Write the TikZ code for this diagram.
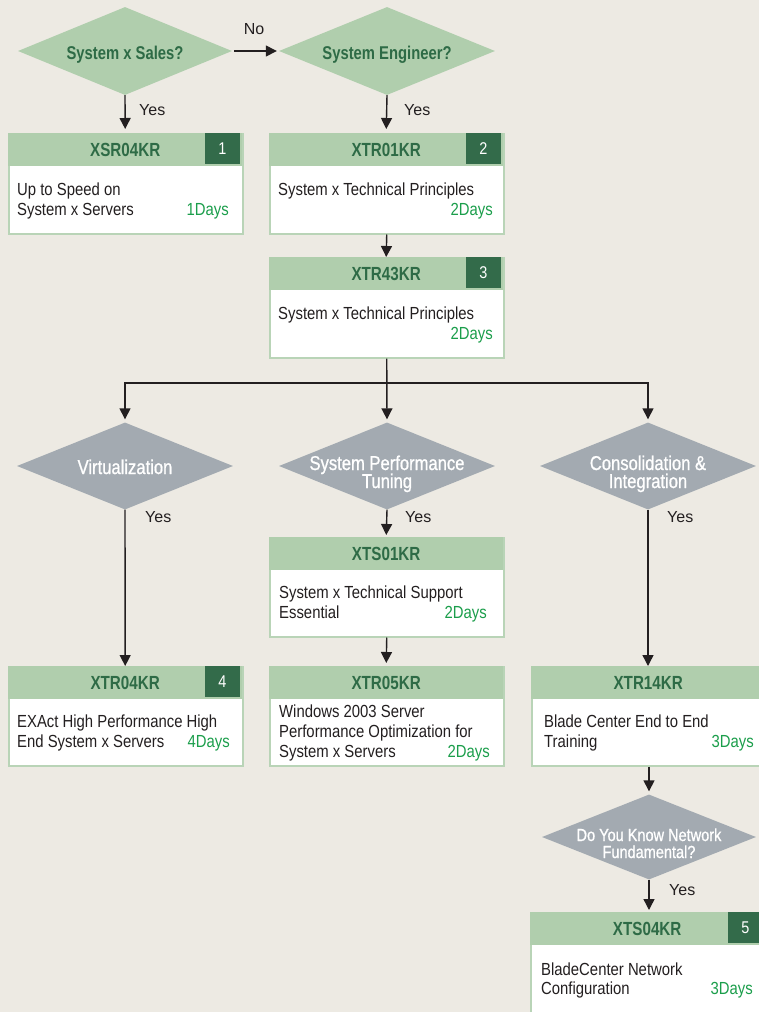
\documentclass[tikz,border=0pt]{standalone}
\usepackage{fontspec}
\setmainfont{Liberation Sans}
\newfontfamily\bodyf[FakeStretch=0.85]{Liberation Sans}
\newfontfamily\hdf[FakeStretch=0.8]{Liberation Sans Bold}
\newfontfamily\grf[FakeStretch=0.83,FakeBold=0.9]{Liberation Sans}
\usetikzlibrary{arrows.meta,shapes.geometric}
\definecolor{bgc}{HTML}{EDEAE3}
\definecolor{lgreen}{HTML}{B0CEAD}
\definecolor{bline}{HTML}{B9D4B7}
\definecolor{dgreen}{HTML}{2E6B46}
\definecolor{ngreen}{HTML}{336B4A}
\definecolor{gdia}{HTML}{A3AAB1}
\definecolor{daysc}{HTML}{1B9E4B}
\definecolor{ink}{HTML}{231F20}
\begin{document}
\begin{tikzpicture}[x=1pt,y=-1pt,
  greendia/.style={diamond, fill=lgreen, minimum width=214, minimum height=88, inner sep=0},
  graydia/.style={diamond, fill=gdia, minimum width=216, minimum height=87, inner sep=0},
  dtxt/.style={anchor=base, inner sep=0, text=dgreen, font=\hdf\fontsize{18.5}{20}\selectfont},
  gtxt/.style={anchor=base, inner sep=0, text=white, font=\grf\fontsize{20}{20}\selectfont},
  gtxts/.style={anchor=base, inner sep=0, text=white, font=\grf\fontsize{17.5}{18}\selectfont},
  boxr/.style={anchor=north west, fill=white, draw=bline, line width=1.5, minimum width=234, inner sep=0},
  hdr/.style={anchor=north west, fill=lgreen, minimum width=234, minimum height=33, inner sep=0, text=dgreen, font=\hdf\fontsize{19}{20}\selectfont},
  numbox/.style={anchor=north east, fill=ngreen, minimum width=35, minimum height=31, inner sep=0, text=white, font=\bodyf\fontsize{17}{18}\selectfont},
  txt/.style={anchor=base west, inner sep=0, text=ink, font=\bodyf\fontsize{17.5}{20}\selectfont},
  days/.style={anchor=base east, inner sep=0, text=daysc, font=\bodyf\fontsize{17.5}{20}\selectfont},
  lbl/.style={anchor=base west, inner sep=0, text=ink, font=\fontsize{16}{18}\selectfont},
  arr/.style={draw=ink, line width=1.4, -{Triangle[length=11pt,width=11pt]}},
  ln/.style={draw=ink, line width=1.4}
]
\useasboundingbox (0,0) rectangle (759,1012);
\fill[bgc] (0,0) rectangle (759,1012);
\clip (0,0) rectangle (759,1012);

% ---------- top decisions
\node[greendia] (d1) at (125,51) {};
\node[dtxt] (d1t) at (125,59) {System x Sales?};
\node[greendia, minimum width=216] (d2) at (387,51) {};
\node[dtxt] (d2t) at (387,59) {System Engineer?};

% ---------- box 1
\node[boxr, minimum height=100] (b1) at (8,133) {};
\node[hdr] (b1h) at (8,133) {XSR04KR};
\node[numbox] (n1) at (240,133) {1};
\node[txt] (b1l1) at (17,195) {Up to Speed on};
\node[txt] (b1l2) at (17,215) {System x Servers};
\node[days] (b1d) at (229,215) {1Days};

% ---------- box 2
\node[boxr, minimum height=100] (b2) at (269,133) {};
\node[hdr] (b2h) at (269,133) {XTR01KR};
\node[numbox] (n2) at (501,133) {2};
\node[txt] (b2l1) at (278,195) {System x Technical Principles};
\node[days] (b2d) at (493,215) {2Days};

% ---------- box 3
\node[boxr, minimum height=100] (b3) at (269,257) {};
\node[hdr] (b3h) at (269,257) {XTR43KR};
\node[numbox] (n3) at (501,257) {3};
\node[txt] (b3l1) at (278,319) {System x Technical Principles};
\node[days] (b3d) at (493,339) {2Days};

% ---------- gray decisions
\node[graydia] (g1) at (125,466) {};
\node[gtxt] (g1t) at (125,474) {Virtualization};
\node[graydia] (g2) at (387,466) {};
\node[gtxt] (g2t1) at (387,470) {System Performance};
\node[gtxt] (g2t2) at (387,488) {Tuning};
\node[graydia] (g3) at (648,466) {};
\node[gtxt] (g3t1) at (648,470) {Consolidation \&};
\node[gtxt] (g3t2) at (648,488) {Integration};

% ---------- box XTS01KR
\node[boxr, minimum height=99] (b4) at (269,537) {};
\node[hdr] (b4h) at (269,537) {XTS01KR};
\node[txt] (b4l1) at (279,598) {System x Technical Support};
\node[txt] (b4l2) at (279,618) {Essential};
\node[days] (b4d) at (487,618) {2Days};

% ---------- box XTR04KR
\node[boxr, minimum height=99] (b5) at (8,666) {};
\node[hdr] (b5h) at (8,666) {XTR04KR};
\node[numbox] (n4) at (240,666) {4};
\node[txt] (b5l1) at (17,727) {EXAct High Performance High};
\node[txt] (b5l2) at (17,747) {End System x Servers};
\node[days] (b5d) at (230,747) {4Days};

% ---------- box XTR05KR
\node[boxr, minimum height=99] (b6) at (269,666) {};
\node[hdr] (b6h) at (269,666) {XTR05KR};
\node[txt] (b6l1) at (279,717) {Windows 2003 Server};
\node[txt] (b6l2) at (279,737) {Performance Optimization for};
\node[txt] (b6l3) at (279,757) {System x Servers};
\node[days] (b6d) at (490,757) {2Days};

% ---------- box XTR14KR
\node[boxr, minimum height=99] (b7) at (531,666) {};
\node[hdr] (b7h) at (531,666) {XTR14KR};
\node[txt] (b7l1) at (544,727) {Blade Center End to End};
\node[txt] (b7l2) at (544,747) {Training};
\node[days] (b7d) at (754,747) {3Days};

% ---------- network decision
\node[graydia, minimum width=214, minimum height=85] (g4) at (649,837) {};
\node[gtxts] (g4t1) at (649,841) {Do You Know Network};
\node[gtxts] (g4t2) at (649,858) {Fundamental?};

% ---------- box XTS04KR
\node[boxr, minimum height=130] (b8) at (530,912) {};
\node[hdr] (b8h) at (530,912) {XTS04KR};
\node[numbox] (n5) at (763,912) {5};
\node[txt] (b8l1) at (541,975) {BladeCenter Network};
\node[txt] (b8l2) at (541,994) {Configuration};
\node[days] (b8d) at (753,994) {3Days};

% ---------- connectors
\draw[arr, shorten <=2pt, shorten >=2pt] (d1.east) -- (d2.west);
\node[lbl, anchor=base] (no) at (254,34) {No};
\draw[arr, shorten >=4pt] (d1.south) -- (b1h.north);
\node[lbl] (y1) at (139,115) {Yes};
\draw[arr, shorten >=4pt] (d2.south) -- (b2h.north);
\node[lbl] (y2) at (404,115) {Yes};
\draw[arr] (b2.south) -- (b3h.north);

\coordinate (j) at (387,383);
\draw[arr, shorten >=3pt] (b3.south) -- (g2.north);
\draw[arr, shorten >=3pt] (j) -| (g1.north);
\draw[arr, shorten >=3pt] (j) -| (g3.north);

\draw[arr] (g1.south) -- (b5h.north);
\node[lbl] (y3) at (145,522) {Yes};
\draw[arr, shorten >=2pt] (g2.south) -- (b4h.north);
\node[lbl] (y4) at (405,522) {Yes};
\draw[arr] (g3.south) -- (g3.south |- b7h.north);
\node[lbl] (y5) at (667,522) {Yes};
\draw[arr, shorten >=3pt] (b4.south) -- (b6h.north);

\draw[arr, shorten >=3pt] (b7.south -| g4.north) -- (g4.north);
\draw[arr, shorten >=2pt] (g4.south) -- (g4.south |- b8h.north);
\node[lbl] (y6) at (669,895) {Yes};
\end{tikzpicture}
\end{document}
